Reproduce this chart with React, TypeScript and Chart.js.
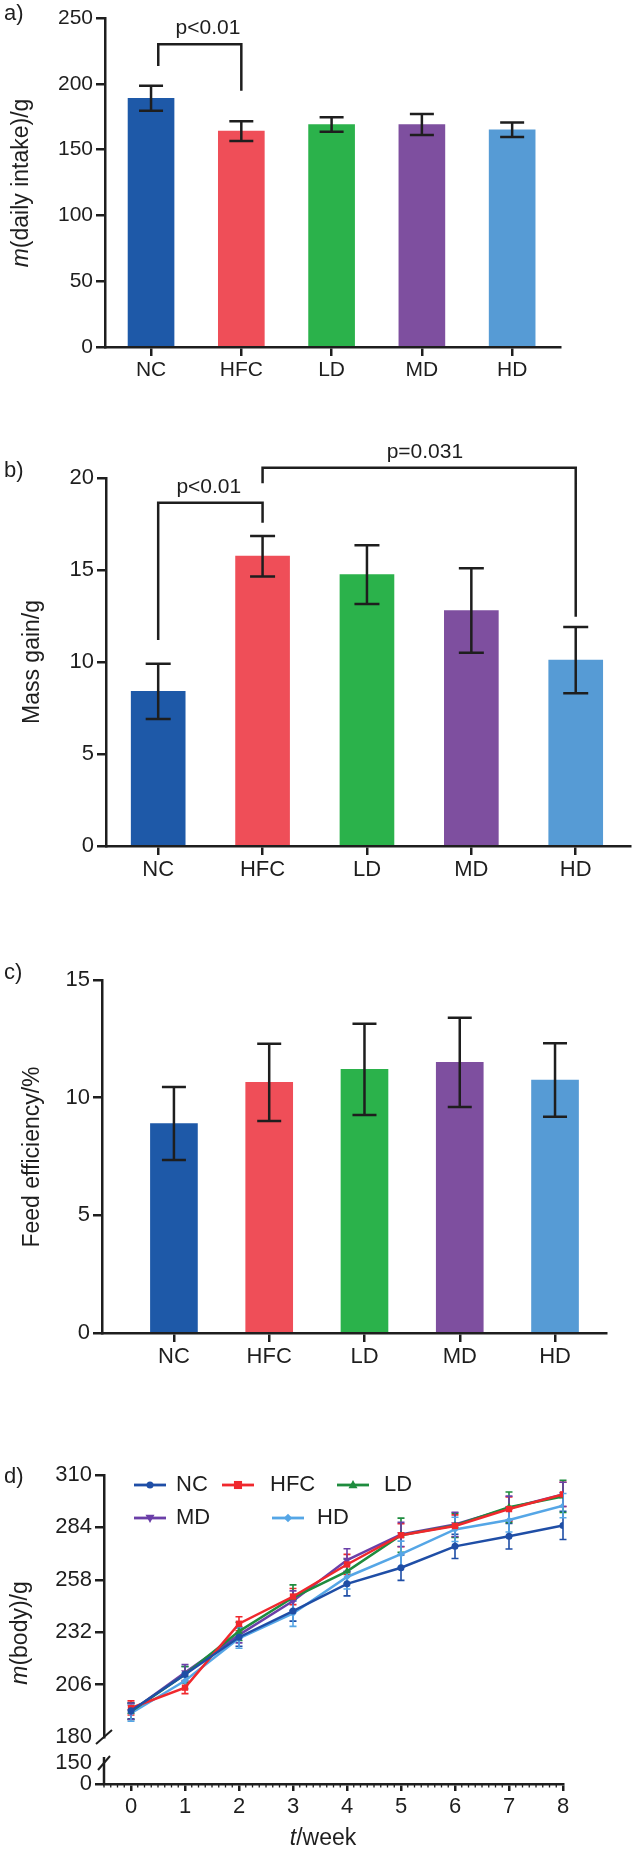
import React, { useEffect, useRef } from 'react';
import { Chart, registerables } from 'chart.js';

Chart.register(...registerables);

const FONT = "'Liberation Sans', Arial, Helvetica, sans-serif";
const INK = '#1e1e1e';

// ---------- data ----------
const categories = ['NC', 'HFC', 'LD', 'MD', 'HD'];
const barColors = ['#1e59a8', '#ef4e58', '#2bb24b', '#7e4f9f', '#569bd5'];

const intakeValues = [189, 164, 169, 169, 165];
const intakeErrors = [9.5, 7.5, 5.5, 8, 5.5];
const intakeTicks = [0, 50, 100, 150, 200, 250];

const gainValues = [8.4, 15.75, 14.75, 12.8, 10.1];
const gainErrors = [1.5, 1.1, 1.6, 2.3, 1.8];
const gainTicks = [0, 5, 10, 15, 20];

const efficiencyValues = [8.9, 10.65, 11.2, 11.5, 10.75];
const efficiencyErrors = [1.55, 1.64, 1.94, 1.9, 1.56];
const efficiencyTicks = [0, 5, 10, 15];

const weeks = [0, 1, 2, 3, 4, 5, 6, 7, 8];
const bodyNC = [193, 211, 229.5, 242.5, 256, 264, 274.6, 279.6, 285];
const bodyHFC = [194.4, 204.5, 236.2, 249.7, 265.6, 280.1, 284.7, 293.1, 300.4];
const bodyLD = [192.7, 211, 232.4, 249.2, 262.2, 280.1, 285, 294, 299.4];
const bodyMD = [192.7, 212, 230.7, 247.5, 267.8, 280.5, 285.5, 293.5, 300.4];
const bodyHD = [191.8, 207.9, 229, 241.3, 259.4, 270.7, 283, 287.7, 294.8];
const errNC = [4, 4, 4.5, 5, 6, 6.3, 6, 6.3, 7];
const errHFC = [3.5, 3, 3.5, 4, 5, 5.7, 5.5, 6, 6];
const errLD = [4, 4, 4.5, 6.3, 6, 8.5, 6, 7.6, 8];
const errMD = [4, 4, 4, 5, 5.6, 6, 6, 6, 6];
const errHD = [4, 4, 5, 6.4, 6, 6.5, 6, 6, 6];
const bodyTicksUpper = [180, 206, 232, 258, 284, 310];
const bodyTicksLower = [0, 150];
const lineColors = ['#1f4ea6', '#f0282d', '#1e8c3e', '#6b3fa8', '#55a6e6'];

type Bracket = { from: number; to: number; top: number; leftEnd: number; rightEnd: number; label: string; labelAt: number };
const intakeBrackets: Bracket[] = [
  { from: 0.08, to: 1, top: 230, leftEnd: 213.6, rightEnd: 194.7, label: 'p<0.01', labelAt: 0.63 },
];
const gainBrackets: Bracket[] = [
  { from: 0, to: 1, top: 18.66, leftEnd: 11.2, rightEnd: 17.57, label: 'p<0.01', labelAt: 0.485 },
  { from: 1, to: 4, top: 20.56, leftEnd: 19.71, rightEnd: 12.46, label: 'p=0.031', labelAt: 2.555 },
];
const efficiencyBrackets: Bracket[] = [];

// ---------- helpers ----------
function drawRich(ctx: CanvasRenderingContext2D, parts: [string, boolean][], cx: number, cy: number, size: number, rotated: boolean) {
  ctx.save();
  ctx.translate(cx, cy);
  if (rotated) ctx.rotate(-Math.PI / 2);
  const fonts = parts.map(([, it]) => `${it ? 'italic ' : ''}${size}px ${FONT}`);
  let total = 0;
  const widths = parts.map(([t], i) => {
    ctx.font = fonts[i];
    const w = ctx.measureText(t).width;
    total += w;
    return w;
  });
  let x = -total / 2;
  ctx.textBaseline = 'middle';
  ctx.textAlign = 'left';
  ctx.fillStyle = INK;
  parts.forEach(([t], i) => {
    ctx.font = fonts[i];
    ctx.fillText(t, x, 0);
    x += widths[i];
  });
  ctx.restore();
}

function drawMarker(ctx: CanvasRenderingContext2D, style: string, x: number, y: number, r: number, rot: number) {
  ctx.beginPath();
  if (style === 'circle') {
    ctx.arc(x, y, r, 0, Math.PI * 2);
  } else if (style === 'rect') {
    const s = r * 0.9;
    ctx.rect(x - s, y - s, 2 * s, 2 * s);
  } else if (style === 'rectRot') {
    ctx.moveTo(x, y - r * 1.2);
    ctx.lineTo(x + r * 1.2, y);
    ctx.lineTo(x, y + r * 1.2);
    ctx.lineTo(x - r * 1.2, y);
    ctx.closePath();
  } else {
    const dir = rot === 180 ? -1 : 1;
    ctx.moveTo(x, y - dir * r * 1.1);
    ctx.lineTo(x + r, y + dir * r * 0.7);
    ctx.lineTo(x - r, y + dir * r * 0.7);
    ctx.closePath();
  }
  ctx.fill();
}

type BarSpec = {
  top: number;
  height: number;
  area: { left: number; right: number; top: number; bottom: number };
  values: number[];
  errors: number[];
  ticks: number[];
  yMax: number;
  xMin: number;
  xMax: number;
  barThickness: number;
  capHalf: number;
  tickFont: number;
  letter: string;
  letterY: number;
  title: [string, boolean][];
  titleX: number;
  titleY: number;
  brackets: Bracket[];
};

function BarPanel({ spec }: { spec: BarSpec }) {
  const ref = useRef<HTMLCanvasElement>(null);
  useEffect(() => {
    const s = spec;
    const overlay = {
      id: 'overlay' + s.letter,
      afterDatasetsDraw(chart: any) {
        const ctx: CanvasRenderingContext2D = chart.ctx;
        const xs = chart.scales.x;
        const ys = chart.scales.y;
        ctx.save();
        ctx.strokeStyle = INK;
        ctx.lineWidth = 2.5;
        s.values.forEach((v, i) => {
          const px = xs.getPixelForValue(i);
          const yT = ys.getPixelForValue(v + s.errors[i]);
          const yB = ys.getPixelForValue(v - s.errors[i]);
          ctx.beginPath();
          ctx.moveTo(px, yT);
          ctx.lineTo(px, yB);
          ctx.moveTo(px - s.capHalf, yT);
          ctx.lineTo(px + s.capHalf, yT);
          ctx.moveTo(px - s.capHalf, yB);
          ctx.lineTo(px + s.capHalf, yB);
          ctx.stroke();
        });
        s.brackets.forEach((b) => {
          const x1 = xs.getPixelForValue(b.from);
          const x2 = xs.getPixelForValue(b.to);
          const yt = ys.getPixelForValue(b.top);
          ctx.beginPath();
          ctx.moveTo(x1, ys.getPixelForValue(b.leftEnd));
          ctx.lineTo(x1, yt);
          ctx.lineTo(x2, yt);
          ctx.lineTo(x2, ys.getPixelForValue(b.rightEnd));
          ctx.stroke();
          ctx.fillStyle = INK;
          ctx.font = `21px ${FONT}`;
          ctx.textAlign = 'center';
          ctx.textBaseline = 'alphabetic';
          ctx.fillText(b.label, xs.getPixelForValue(b.labelAt), yt - 10);
        });
        ctx.restore();
      },
      afterDraw(chart: any) {
        const ctx: CanvasRenderingContext2D = chart.ctx;
        ctx.save();
        ctx.fillStyle = INK;
        ctx.font = `22px ${FONT}`;
        ctx.textAlign = 'left';
        ctx.textBaseline = 'middle';
        ctx.fillText(s.letter, 4, s.letterY - s.top);
        ctx.restore();
        drawRich(ctx, s.title, s.titleX, s.titleY - s.top, 23, true);
      },
    };
    const chart = new Chart(ref.current!, {
      type: 'bar',
      data: {
        datasets: [
          {
            data: s.values.map((v, i) => ({ x: i, y: v })),
            backgroundColor: barColors,
            borderWidth: 0,
            barThickness: s.barThickness,
          },
        ],
      },
      options: {
        animation: false,
        responsive: false,
        maintainAspectRatio: false,
        layout: { padding: { top: s.area.top - s.top, right: 633 - s.area.right, left: 0, bottom: 0 } },
        plugins: { legend: { display: false }, tooltip: { enabled: false } },
        scales: {
          x: {
            type: 'linear',
            min: s.xMin,
            max: s.xMax,
            offset: false,
            afterBuildTicks: (sc: any) => {
              sc.ticks = categories.map((_, i) => ({ value: i }));
            },
            afterFit: (sc: any) => {
              sc.height = s.top + s.height - s.area.bottom;
            },
            grid: { display: true, drawOnChartArea: false, drawTicks: true, tickLength: 9, color: INK, lineWidth: 2.5, offset: false },
            border: { display: true, color: INK, width: 2.5 },
            ticks: {
              callback: (v: any) => categories[v] ?? '',
              font: { family: FONT, size: s.tickFont },
              color: INK,
              padding: 2,
              maxRotation: 0,
              autoSkip: false,
            },
          },
          y: {
            type: 'linear',
            min: 0,
            max: s.yMax,
            afterBuildTicks: (sc: any) => {
              sc.ticks = s.ticks.map((v) => ({ value: v }));
            },
            afterFit: (sc: any) => {
              sc.width = s.area.left;
            },
            grid: { display: true, drawOnChartArea: false, drawTicks: true, tickLength: 9, color: INK, lineWidth: 2.5 },
            border: { display: true, color: INK, width: 2.5 },
            ticks: { font: { family: FONT, size: s.tickFont }, color: INK, padding: 3, autoSkip: false },
          },
        },
      } as any,
      plugins: [overlay],
    });
    return () => chart.destroy();
  }, []);
  return <canvas ref={ref} width={633} height={spec.height} style={{ position: 'absolute', left: 0, top: spec.top }} />;
}

const barSpecs: BarSpec[] = [
  {
    top: 0, height: 400, area: { left: 105, right: 560, top: 18, bottom: 347 },
    values: intakeValues, errors: intakeErrors, ticks: intakeTicks, yMax: 250,
    xMin: -0.51, xMax: 4.53, barThickness: 46, capHalf: 12, tickFont: 21,
    letter: 'a)', letterY: 14, title: [['m', true], ['(daily intake)/g', false]], titleX: 22, titleY: 183,
    brackets: intakeBrackets,
  },
  {
    top: 400, height: 490, area: { left: 106, right: 630, top: 478, bottom: 846 },
    values: gainValues, errors: gainErrors, ticks: gainTicks, yMax: 20,
    xMin: -0.5, xMax: 4.52, barThickness: 54, capHalf: 12.5, tickFont: 22,
    letter: 'b)', letterY: 471, title: [['Mass gain/g', false]], titleX: 33, titleY: 662,
    brackets: gainBrackets,
  },
  {
    top: 890, height: 490, area: { left: 102, right: 606, top: 980, bottom: 1333 },
    values: efficiencyValues, errors: efficiencyErrors, ticks: efficiencyTicks, yMax: 15,
    xMin: -0.755, xMax: 4.535, barThickness: 47, capHalf: 12, tickFont: 22,
    letter: 'c)', letterY: 973, title: [['Feed efficiency/%', false]], titleX: 33, titleY: 1157,
    brackets: efficiencyBrackets,
  },
];

const seriesD = [
  { label: 'NC', values: bodyNC, errors: errNC, style: 'circle', radius: 3.5, rot: 0 },
  { label: 'HFC', values: bodyHFC, errors: errHFC, style: 'rect', radius: 4.5, rot: 0 },
  { label: 'LD', values: bodyLD, errors: errLD, style: 'triangle', radius: 4.5, rot: 0 },
  { label: 'MD', values: bodyMD, errors: errMD, style: 'triangle', radius: 4.5, rot: 180 },
  { label: 'HD', values: bodyHD, errors: errHD, style: 'rectRot', radius: 3.5, rot: 0 },
];

function LinePanel() {
  const ref = useRef<HTMLCanvasElement>(null);
  useEffect(() => {
    const TOP = 1380;
    const H = 475;
    const area = { left: 104, right: 563, top: 1475, bottom: 1784 };
    const legendItems = [
      { i: 0, lx: 134, tx: 176, y: 1485 },
      { i: 1, lx: 222, tx: 270, y: 1485 },
      { i: 2, lx: 337, tx: 384, y: 1485 },
      { i: 3, lx: 134, tx: 176, y: 1518 },
      { i: 4, lx: 272, tx: 317, y: 1518 },
    ];
    const overlay = {
      id: 'overlayD',
      beforeDatasetsDraw(chart: any) {
        const ctx: CanvasRenderingContext2D = chart.ctx;
        const xs = chart.scales.x;
        const ys = chart.scales.y;
        ctx.save();
        ctx.lineWidth = 1.6;
        seriesD.forEach((s, si) => {
          ctx.strokeStyle = lineColors[si];
          s.values.forEach((v, i) => {
            const px = xs.getPixelForValue(weeks[i]);
            const yT = ys.getPixelForValue(v + s.errors[i]);
            const yB = ys.getPixelForValue(v - s.errors[i]);
            ctx.beginPath();
            ctx.moveTo(px, yT);
            ctx.lineTo(px, yB);
            ctx.moveTo(px - 3.5, yT);
            ctx.lineTo(px + 3.5, yT);
            ctx.moveTo(px - 3.5, yB);
            ctx.lineTo(px + 3.5, yB);
            ctx.stroke();
          });
        });
        ctx.restore();
      },
      afterDraw(chart: any) {
        const ctx: CanvasRenderingContext2D = chart.ctx;
        const xs = chart.scales.x;
        const y2 = chart.scales.y2;
        const ys = chart.scales.y;
        const axX = chart.chartArea.left;
        ctx.save();
        ctx.strokeStyle = INK;
        ctx.lineWidth = 2.5;
        // lower axis segment
        ctx.beginPath();
        ctx.moveTo(axX, y2.getPixelForValue(150) - 6);
        ctx.lineTo(axX, chart.chartArea.bottom);
        ctx.stroke();
        // break marks
        ctx.lineWidth = 2;
        const yb1 = ys.getPixelForValue(180);
        ctx.beginPath();
        ctx.moveTo(axX - 8, yb1 + 7);
        ctx.lineTo(axX + 8, yb1 - 7);
        const yb2 = y2.getPixelForValue(150);
        ctx.moveTo(axX - 6, yb2 + 7);
        ctx.lineTo(axX + 6, yb2 - 7);
        ctx.stroke();
        // minor ticks on the x axis
        ctx.lineWidth = 1.3;
        const yAxis = chart.chartArea.bottom;
        ctx.beginPath();
        for (let w = -0.5; w <= 8.0001; w += 0.125) {
          if (Math.abs(w - Math.round(w)) < 1e-6) continue;
          const px = xs.getPixelForValue(w);
          ctx.moveTo(px, yAxis);
          ctx.lineTo(px, yAxis + 3.5);
        }
        ctx.stroke();
        // legend
        legendItems.forEach((it) => {
          const y = it.y - TOP;
          ctx.strokeStyle = lineColors[it.i];
          ctx.fillStyle = lineColors[it.i];
          ctx.lineWidth = 2.8;
          ctx.beginPath();
          ctx.moveTo(it.lx, y);
          ctx.lineTo(it.lx + 32, y);
          ctx.stroke();
          const s = seriesD[it.i];
          drawMarker(ctx, s.style, it.lx + 16, y, s.radius, s.rot);
          ctx.fillStyle = INK;
          ctx.font = `22px ${FONT}`;
          ctx.textAlign = 'left';
          ctx.textBaseline = 'middle';
          ctx.fillText(s.label, it.tx, y);
        });
        // letter
        ctx.fillStyle = INK;
        ctx.font = `22px ${FONT}`;
        ctx.textAlign = 'left';
        ctx.textBaseline = 'middle';
        ctx.fillText('d)', 4, 1477 - TOP);
        ctx.restore();
        drawRich(ctx, [['m', true], ['(body)/g', false]], 21, 1633 - TOP, 23, true);
        drawRich(ctx, [['t', true], ['/week', false]], 323, 1839 - TOP, 23, false);
      },
    };
    const chart = new Chart(ref.current!, {
      type: 'line',
      data: {
        datasets: seriesD.map((s, si) => ({
          label: s.label,
          data: weeks.map((w, i) => ({ x: w, y: s.values[i] })),
          borderColor: lineColors[si],
          backgroundColor: lineColors[si],
          borderWidth: 2.5,
          pointStyle: s.style as any,
          pointRadius: s.radius,
          pointRotation: s.rot,
          pointBorderWidth: 0,
          tension: 0,
          yAxisID: 'y',
        })),
      },
      options: {
        animation: false,
        responsive: false,
        maintainAspectRatio: false,
        layout: { padding: { top: area.top - TOP, right: 633 - area.right, left: 0, bottom: 0 } },
        plugins: { legend: { display: false }, tooltip: { enabled: false } },
        scales: {
          x: {
            type: 'linear',
            min: -0.5,
            max: 8,
            afterBuildTicks: (sc: any) => {
              sc.ticks = weeks.map((w) => ({ value: w }));
            },
            afterFit: (sc: any) => {
              sc.height = TOP + H - area.bottom;
            },
            grid: { display: true, drawOnChartArea: false, drawTicks: true, tickLength: 7, color: INK, lineWidth: 2.5 },
            border: { display: true, color: INK, width: 2.5 },
            ticks: { font: { family: FONT, size: 22 }, color: INK, padding: 3, maxRotation: 0, autoSkip: false },
          },
          y: {
            type: 'linear',
            position: 'left',
            stack: 'body',
            stackWeight: 262,
            weight: 2,
            min: 180,
            max: 310,
            afterBuildTicks: (sc: any) => {
              sc.ticks = bodyTicksUpper.map((v) => ({ value: v }));
            },
            afterFit: (sc: any) => {
              sc.width = area.left;
            },
            grid: {
              display: true,
              drawOnChartArea: false,
              drawTicks: true,
              tickLength: 9,
              lineWidth: 2.5,
              color: INK,
              tickColor: (c: any) => (c.tick && c.tick.value === 180 ? 'rgba(0,0,0,0)' : INK),
            },
            border: { display: true, color: INK, width: 2.5 },
            ticks: { font: { family: FONT, size: 22 }, color: INK, padding: 3, autoSkip: false },
          },
          y2: {
            type: 'linear',
            position: 'left',
            stack: 'body',
            stackWeight: 47,
            weight: 1,
            min: 0,
            max: 335.7,
            afterBuildTicks: (sc: any) => {
              sc.ticks = bodyTicksLower.map((v) => ({ value: v }));
            },
            afterFit: (sc: any) => {
              sc.width = area.left;
            },
            grid: {
              display: true,
              drawOnChartArea: false,
              drawTicks: true,
              tickLength: 9,
              lineWidth: 2.5,
              color: INK,
              tickColor: (c: any) => (c.tick && c.tick.value === 150 ? 'rgba(0,0,0,0)' : INK),
            },
            border: { display: false },
            ticks: { font: { family: FONT, size: 22 }, color: INK, padding: 3, autoSkip: false },
          },
        },
      } as any,
      plugins: [overlay],
    });
    return () => chart.destroy();
  }, []);
  return <canvas ref={ref} width={633} height={475} style={{ position: 'absolute', left: 0, top: 1380 }} />;
}

export default function App() {
  return (
    <div style={{ position: 'absolute', left: 0, top: 0, width: 633, height: 1855, background: '#ffffff' }}>
      {barSpecs.map((s) => (
        <BarPanel key={s.letter} spec={s} />
      ))}
      <LinePanel />
    </div>
  );
}
